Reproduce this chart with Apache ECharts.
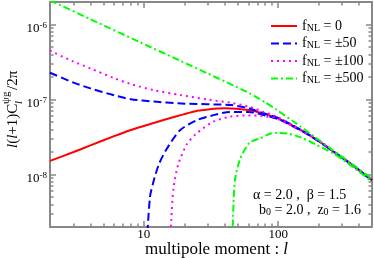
<!DOCTYPE html>
<html><head><meta charset="utf-8">
<script src="https://cdn.jsdelivr.net/npm/echarts@6/dist/echarts.min.js"></script>
<style>html,body{margin:0;padding:0;background:#fff}#c{width:374px;height:258px}</style>
</head><body><div id="c"></div>
<script>
// axis ranges and ticks
const xMin = 2, xMax = 500, yMin = 2e-9, yMax = 2e-6;
const xMajor = [10, 100];
const xMinor = [3,4,5,6,7,8,9,20,30,40,50,60,70,80,90,200,300,400];
const yMajor = [1e-8, 1e-7, 1e-6];
const yMinor = [3e-9,4e-9,5e-9,6e-9,7e-9,8e-9,9e-9,2e-8,3e-8,4e-8,5e-8,6e-8,7e-8,8e-8,9e-8,2e-7,3e-7,4e-7,5e-7,6e-7,7e-7,8e-7,9e-7];

// legend keys
const legendKeys = ['0', '±50', '±100', '±500'];

// fNL = 0
const l0 = [2,3,4,6,8,10,14,20,25,30,40,60,80,100,150,200,260,350,500];
const c0 = [1.52e-8,2.0e-8,2.45e-8,3.25e-8,3.93e-8,4.45e-8,5.34e-8,6.4e-8,7.1e-8,7.4e-8,7.65e-8,7.26e-8,6.4e-8,5.6e-8,3.85e-8,2.8e-8,2.0e-8,1.38e-8,8.4e-9];
// fNL = +50 (upper) / -50 (lower)
const l50p = [2,3,4,6,8,12,18,25,35,45,60,78,100,150,200,260,350,500];
const c50p = [2.28e-7,1.68e-7,1.41e-7,1.14e-7,1.01e-7,9.4e-8,8.9e-8,8.75e-8,8.6e-8,8.45e-8,7.7e-8,6.56e-8,5.7e-8,3.87e-8,2.82e-8,2.01e-8,1.38e-8,8.4e-9];
const l50m = [10.4,11.1,12,13,14.8,18.6,24.7,33,43.8,60,78,100,150,200,260,350,500];
const c50m = [8e-10,5.0e-9,9e-9,1.4e-8,2.2e-8,3.9e-8,5.3e-8,6.2e-8,6.85e-8,6.85e-8,6.22e-8,5.5e-8,3.83e-8,2.79e-8,2.0e-8,1.38e-8,8.4e-9];
// fNL = +100 / -100
const l100p = [2,3,4,6,8,12,18.6,30,43.8,60,77.5,100,150,200,260,350,500];
const c100p = [4.49e-7,3.2e-7,2.6e-7,1.93e-7,1.61e-7,1.33e-7,1.15e-7,1.0e-7,9.1e-8,8.1e-8,6.89e-8,5.8e-8,3.9e-8,2.84e-8,2.02e-8,1.39e-8,8.45e-9];
const l100m = [15.5,16,16.6,18,20.8,24.5,32.9,43.8,60,77.5,100,150,200,260,350,500];
const c100m = [8e-10,2.5e-9,6.5e-9,1.35e-8,2.5e-8,3.5e-8,5.07e-8,5.91e-8,6.15e-8,6.04e-8,5.45e-8,3.82e-8,2.78e-8,1.99e-8,1.37e-8,8.35e-9];
// fNL = +500 / -500
const l500p = [2,4,9.4,18.6,30,40,50,61.7,80,97.5,130,193.6,260,343,500];
const c500p = [2.1e-6,1.18e-6,5.8e-7,3.3e-7,2.22e-7,1.75e-7,1.45e-7,1.2e-7,9.2e-8,7.3e-8,5.1e-8,3.04e-8,2.07e-8,1.45e-8,8.8e-9];
const l500m = [45.3,46.5,47.7,52,61,73.3,86.9,100,120,150,193.6,260,324,400,500];
const c500m = [8e-10,4e-9,8.47e-9,1.6e-8,2.65e-8,3.04e-8,3.5e-8,3.6e-8,3.5e-8,3.1e-8,2.48e-8,1.9e-8,1.45e-8,1.1e-8,8.0e-9];

const zip = (a, b) => a.map((v, i) => [v, b[i]]);
const SERIF = 'Liberation Serif';
const AX = '#888';

function axis(kind, pos, vals, len, withLine, labels) {
  const o = {
    type: 'log', logBase: 10, position: pos,
    min: kind === 'x' ? xMin : yMin, max: kind === 'x' ? xMax : yMax,
    axisLine: {show: withLine, lineStyle: {color: AX, width: 2}},
    axisTick: {show: true, inside: true, length: len, customValues: vals, lineStyle: {color: AX, width: 1.5}},
    axisLabel: {show: !!labels},
    splitLine: {show: false}, minorTick: {show: false}, minorSplitLine: {show: false}
  };
  if (labels) o.axisLabel = labels;
  return o;
}

const xLab = {show: true, customValues: xMajor, margin: 1, fontFamily: SERIF, fontSize: 13, color: '#000'};
const yLab = {show: true, customValues: yMajor, margin: 3, color: '#000',
  formatter: v => '{b|10}{s|' + String(Math.round(Math.log10(v))) + '}',
  rich: {b: {fontFamily: SERIF, fontSize: 13, color: '#000', lineHeight: 14, padding: [9,0,0,0]},
         s: {fontFamily: SERIF, fontSize: 9, color: '#000', lineHeight: 10, verticalAlign: 'top', padding: [4,0,0,0]}}};

const chart = echarts.init(document.getElementById('c'));
const lineS = (name, l, c, color, type) => ({
  name, type: 'line', data: zip(l, c), xAxisIndex: 0, yAxisIndex: 0,
  symbol: 'none', showSymbol: false, smooth: 0.25, color,
  lineStyle: {color, width: 2, type}, itemStyle: {color}, clip: true, animation: false
});
const dashB = [8, 4], dotM = [2, 4], dashG = [7, 3, 2, 3];

chart.setOption({
  animation: false,
  grid: {left: 50, right: 2, top: 2, bottom: 31, outerBoundsMode: 'none', containLabel: false},
  xAxis: [
    axis('x', 'bottom', xMajor, 6, true, xLab),
    axis('x', 'bottom', xMinor, 3.5, false),
    axis('x', 'top', xMajor, 6, true),
    axis('x', 'top', xMinor, 3.5, false)
  ],
  yAxis: [
    axis('y', 'left', yMajor, 6, true, yLab),
    axis('y', 'left', yMinor, 3.5, false),
    axis('y', 'right', yMajor, 6, true),
    axis('y', 'right', yMinor, 3.5, false)
  ],
  legend: {
    orient: 'vertical', left: 270, top: 19, itemWidth: 26, itemHeight: 14, itemGap: 3.5, padding: 0,
    selectedMode: false, data: legendKeys,
    itemStyle: {opacity: 0, borderWidth: 0},
    lineStyle: {width: 2},
    formatter: n => '{a|f}{s|NL}{a| = ' + n + '}',
    textStyle: {color: '#000', fontFamily: SERIF, fontSize: 14,
      rich: {a: {fontFamily: SERIF, fontSize: 14, color: '#000', lineHeight: 14},
             s: {fontFamily: SERIF, fontSize: 10, color: '#000', lineHeight: 2, verticalAlign: 'bottom'}}}
  },
  series: [
    lineS(legendKeys[0], l0, c0, '#ff0000', 'solid'),
    lineS(legendKeys[1], l50p, c50p, '#0000ff', dashB),
    lineS(legendKeys[1], l50m, c50m, '#0000ff', dashB),
    lineS(legendKeys[2], l100p, c100p, '#ff00ff', dotM),
    lineS(legendKeys[2], l100m, c100m, '#ff00ff', dotM),
    lineS(legendKeys[3], l500p, c500p, '#00ff00', dashG),
    lineS(legendKeys[3], l500m, c500m, '#00ff00', dashG)
  ],
  graphic: [
    {type: 'text', left: 145, top: 241, style: {text: 'multipole moment : {i|l}', fontFamily: SERIF, fontSize: 17, fill: '#000',
      rich: {i: {fontFamily: SERIF, fontStyle: 'italic', fontSize: 17}}}},
    {type: 'group', x: 13, y: 148, rotation: Math.PI / 2, children: [
      {type: 'text', x: 0, y: 0, style: {text: '{i|l}({i|l}+1)C', fontFamily: SERIF, fontSize: 15, fill: '#000', verticalAlign: 'middle', align: 'left',
        rich: {i: {fontFamily: SERIF, fontStyle: 'italic', fontSize: 15}}}},
      {type: 'text', x: 44, y: -7, style: {text: 'ψg', fontFamily: SERIF, fontSize: 11, fill: '#000', verticalAlign: 'middle', align: 'left'}},
      {type: 'text', x: 44, y: 6, style: {text: 'l', fontFamily: SERIF, fontStyle: 'italic', fontSize: 11, fill: '#000', verticalAlign: 'middle', align: 'left'}},
      {type: 'text', x: 58, y: 0, style: {text: '/2π', fontFamily: SERIF, fontSize: 15, fill: '#000', verticalAlign: 'middle', align: 'left'}}
    ]},
    {type: 'text', x: 253, y: 195, style: {text: 'α = 2.0 ,  β = 1.5', fontFamily: SERIF, fontSize: 14, fill: '#000', verticalAlign: 'middle'}},
    {type: 'text', x: 259, y: 210, style: {text: '{a|b}{s|0}{a| = 2.0 ,  z}{s|0}{a| = 1.6}', fontFamily: SERIF, fontSize: 14, fill: '#000', verticalAlign: 'middle',
      rich: {a: {fontFamily: SERIF, fontSize: 14, lineHeight: 14}, s: {fontFamily: SERIF, fontSize: 10, lineHeight: 2, verticalAlign: 'bottom'}}}}
  ]
});
</script></body></html>
